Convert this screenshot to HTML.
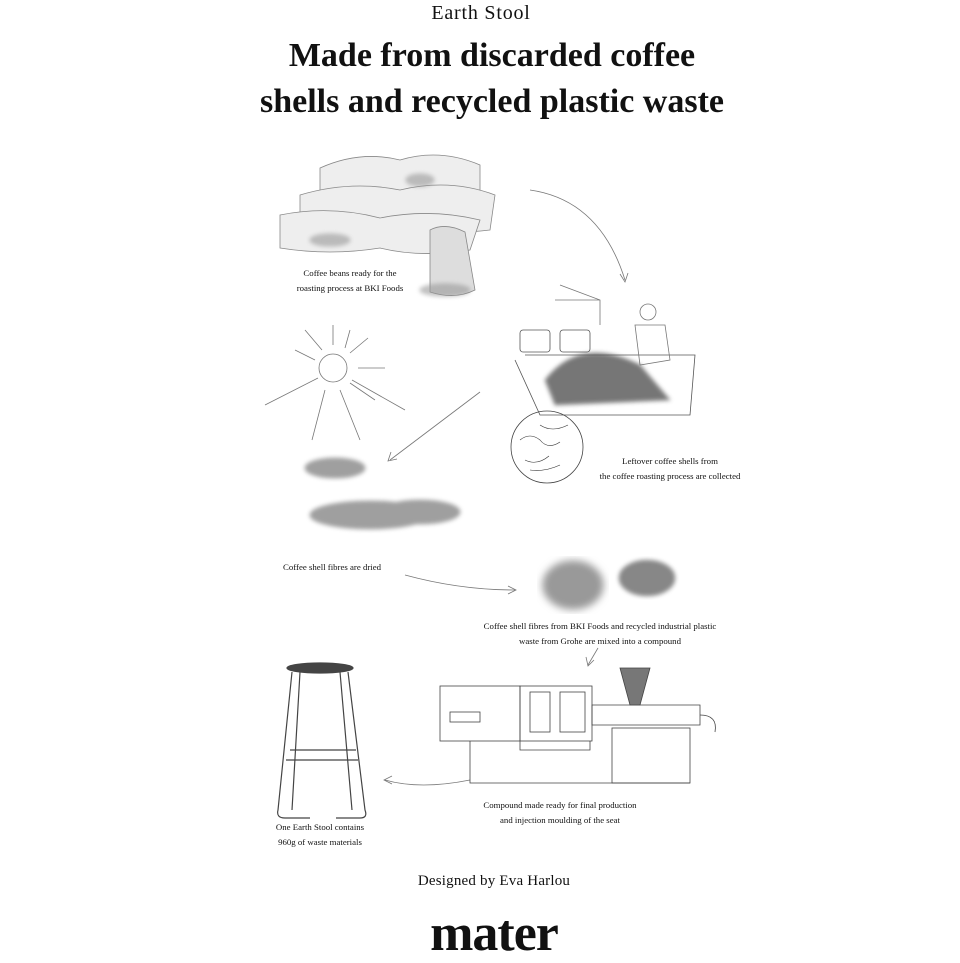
<!DOCTYPE html>
<html><head><meta charset="utf-8"><style>
html,body{margin:0;padding:0;background:#fff;}
body{width:960px;height:960px;position:relative;overflow:hidden;font-family:"Liberation Serif",serif;color:#111;}
.t{position:absolute;white-space:nowrap;text-align:center;}
.c{position:absolute;font-size:8.8px;line-height:15px;text-align:center;white-space:nowrap;}
svg{position:absolute;left:0;top:0;}
</style></head><body>
<svg width="960" height="960" viewBox="0 0 960 960">
<defs>
<filter id="b"><feGaussianBlur stdDeviation="2"/></filter>
<filter id="b2"><feGaussianBlur stdDeviation="4"/></filter>
</defs>
<g fill="none" stroke="#777" stroke-width="0.8">
<g fill="#eee" stroke="#888">
<path d="M320 168 Q360 150 400 160 Q440 148 480 165 L480 195 Q440 200 400 192 Q360 198 320 195Z"/>
<path d="M300 195 Q350 180 400 190 Q450 178 495 195 L490 230 Q440 236 400 226 Q350 236 300 230Z"/>
<path d="M280 215 Q330 205 380 218 Q430 208 480 220 L470 250 Q420 258 380 248 Q330 256 280 248Z"/>
<path d="M430 230 Q445 222 465 232 L475 290 Q455 300 430 292Z" fill="#ddd"/>
</g>
<g fill="#999" filter="url(#b)" opacity="0.6"><ellipse cx="330" cy="240" rx="20" ry="6"/><ellipse cx="420" cy="180" rx="14" ry="6"/><ellipse cx="445" cy="290" rx="25" ry="6"/></g>
<path d="M530 190 Q600 200 625 280"/><path d="M620 274 L625 282 L628 273"/>
<circle cx="333" cy="368" r="14"/>
<path d="M333 345 L333 325 M350 353 L368 338 M358 368 L385 368 M350 383 L375 400 M340 390 L360 440 M325 390 L312 440 M318 378 L265 405 M315 360 L295 350 M322 350 L305 330 M345 348 L350 330 M352 380 L405 410"/>
<path d="M480 392 Q430 430 390 460"/><path d="M391 452 L388 461 L397 459"/>
<g filter="url(#b)" fill="#777" opacity="0.7"><ellipse cx="335" cy="468" rx="30" ry="10"/><ellipse cx="370" cy="515" rx="60" ry="14"/><ellipse cx="420" cy="512" rx="40" ry="12"/></g>
<path d="M405 575 Q460 590 515 590"/><path d="M508 586 L516 590 L508 594"/>
<g filter="url(#b2)"><ellipse cx="573" cy="585" rx="30" ry="24" fill="#999"/></g>
<g filter="url(#b)" fill="#555" opacity="0.7"><ellipse cx="647" cy="578" rx="28" ry="18"/></g>
<path d="M598 648 L588 665"/><path d="M586 657 L588 666 L594 660"/>
<path d="M515 360 L540 415 L690 415 L695 355 L525 355" stroke="#555"/>
<rect x="520" y="330" width="30" height="22" rx="3" stroke="#555"/><rect x="560" y="330" width="30" height="22" rx="3" stroke="#555"/>
<g filter="url(#b)" fill="#555" opacity="0.8"><path d="M545 380 Q580 335 640 365 L670 400 L555 405Z"/></g>
<path d="M560 285 L600 300 L600 325 M555 300 L600 300"/>
<circle cx="648" cy="312" r="8"/><path d="M635 325 L665 325 L670 360 L640 365Z"/>
<circle cx="547" cy="447" r="36" stroke="#444"/>
<g stroke="#333" stroke-width="0.6"><path d="M520 440 q10 -8 20 0 q8 10 20 2 M525 460 q12 6 24 -4 M540 425 q12 8 28 0 M530 470 q15 2 30 -5"/></g>
<path d="M470 780 Q420 790 385 780"/><path d="M392 776 L384 780 L392 784"/>
<g stroke="#444">
<rect x="440" y="686" width="80" height="55"/>
<rect x="520" y="686" width="72" height="55"/>
<rect x="530" y="692" width="20" height="40"/><rect x="560" y="692" width="25" height="40"/>
<rect x="612" y="728" width="78" height="55"/>
<path d="M470 741 L470 783 L690 783 M520 741 L520 750 L590 750 L590 741"/>
<path d="M592 705 L700 705 L700 725 L592 725Z"/>
<path d="M620 668 L650 668 L640 705 L630 705Z" fill="#777"/>
<rect x="450" y="712" width="30" height="10"/>
<path d="M700 715 Q718 715 715 732"/>
</g>
<g stroke="#444" stroke-width="1.2">
<ellipse cx="320" cy="668" rx="33" ry="5" fill="#444"/>
<path d="M292 672 L278 810 Q276 818 285 818 L310 818 M348 672 L365 810 Q368 818 360 818 L336 818 M300 672 L292 810 M340 672 L352 810 M286 760 L358 760 M290 750 L356 750"/>
</g>
</g>
</svg>
<div class="t" style="left:0;width:962px;top:2px;font-size:20px;letter-spacing:0.8px;">Earth Stool</div>
<div class="t" style="left:0;width:984px;top:33px;font-size:34px;font-weight:bold;line-height:46px;">Made from discarded coffee<br>shells and recycled plastic waste</div>
<div class="c" style="left:280px;width:140px;top:266px;">Coffee beans ready for the<br>roasting process at BKI Foods</div>
<div class="c" style="left:590px;width:160px;top:454px;">Leftover coffee shells from<br>the coffee roasting process are collected</div>
<div class="c" style="left:283px;width:120px;top:560px;text-align:left;">Coffee shell fibres are dried</div>
<div class="c" style="left:470px;width:260px;top:619px;">Coffee shell fibres from BKI Foods and recycled industrial plastic<br>waste from Grohe are mixed into a compound</div>
<div class="c" style="left:460px;width:200px;top:798px;">Compound made ready for final production<br>and injection moulding of the seat</div>
<div class="c" style="left:270px;width:100px;top:820px;">One Earth Stool contains<br>960g of waste materials</div>
<div class="t" style="left:0;width:988px;top:873px;font-size:15px;letter-spacing:0.2px;">Designed by Eva Harlou</div>
<div class="t" style="left:0;width:988px;top:904px;font-size:52px;font-weight:bold;letter-spacing:-1px;">mater</div>
</body></html>
